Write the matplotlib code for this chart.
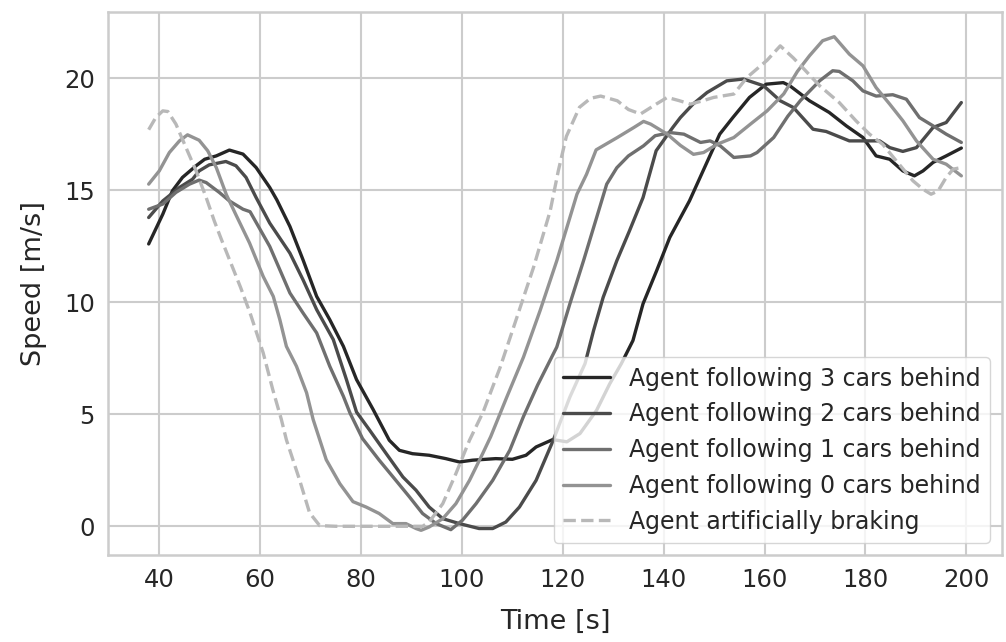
import matplotlib
matplotlib.use("Agg")
from matplotlib import pyplot as plt
import seaborn as sns

# time [s] and speed [m/s], one pair per agent
t_brake = [37.9, 39.3, 40.7, 41.7, 43.3, 45.3, 47.3, 49.3, 50.9, 52.3, 56.1, 58.0, 60.6, 62.5, 64.2, 65.2,
           67.8, 69.8, 71.8, 75, 80, 85, 90, 92.2, 93.5, 96.2, 98.8, 101.5, 104.2, 107.6, 110.9, 114.2,
           117.5, 119.1, 120.7, 123.3, 125.5, 127.5, 130.8, 133.0, 135.4, 138.5, 140.7, 143.0, 145.3,
           147.9, 149.9, 153.9, 156.5, 160.5, 163.1, 165.7, 167.5, 170.9, 174.8, 178.1, 180.8, 183.4,
           186.1, 189.4, 191.4, 193.0, 194.4, 196.0, 197.4, 199.0]
v_brake = [17.7, 18.24, 18.54, 18.51, 17.95, 16.9, 15.86, 14.67, 13.63, 12.81, 10.67, 9.52, 7.74, 6.1, 4.77,
           3.86, 2.08, 0.6, 0.03, 0, 0, 0, 0, 0, 0.19, 1.01, 2.35, 3.84, 5.1, 7.11, 9.33, 11.56, 14.08,
           15.86, 17.4, 18.7, 19.1, 19.2, 18.99, 18.6, 18.4, 18.84, 19.14, 19.0, 18.84, 19.0, 19.14,
           19.29, 20.03, 20.8, 21.44, 20.9, 20.48, 19.66, 18.91, 18.1, 17.5, 17.05, 16.31, 15.42, 15.04,
           14.82, 14.97, 15.57, 15.94, 16.01]

t_0 = [37.9, 40.0, 42.0, 44.0, 45.6, 47.9, 49.6, 51.3, 53.3, 55.2, 57.9, 60.6, 62.6, 63.9, 65.2, 67.2,
       69.2, 70.5, 73.1, 75.8, 78.4, 81.0, 83.6, 86.3, 88.9, 90.9, 91.9, 93.5, 96.2, 98.8, 101.5, 104.1,
       105.7, 108.9, 112.2, 115.5, 118.8, 121.4, 122.8, 124.7, 126.6, 130.8, 134.1, 136.0, 137.4, 140.7,
       143.3, 145.9, 147.9, 150.6, 153.9, 157.2, 160.5, 163.8, 166.5, 168.9, 171.5, 173.8, 176.8, 179.5,
       182.1, 184.8, 187.4, 190.1, 193.4, 196.0, 199.0]
v_0 = [15.27, 15.86, 16.68, 17.2, 17.47, 17.23, 16.76, 16.01, 14.8, 13.9, 12.64, 11.15, 10.26, 9.22, 8.03,
       7.14, 5.96, 4.77, 2.97, 1.9, 1.1, 0.86, 0.57, 0.12, 0.12, -0.1, -0.18, -0.03, 0.34, 1.01, 2.05,
       3.24, 4.0, 5.77, 7.55, 9.63, 11.85, 13.78, 14.82, 15.71, 16.8, 17.35, 17.8, 18.07, 17.95, 17.5,
       17.0, 16.6, 16.68, 17.05, 17.35, 17.95, 18.54, 19.3, 20.3, 21.0, 21.67, 21.85, 21.07, 20.55,
       19.58, 18.84, 18.1, 17.2, 16.38, 16.16, 15.64]

t_1 = [37.9, 40.7, 43.3, 46.0, 47.9, 49.3, 51.9, 53.9, 56.6, 58.0, 61.9, 65.9, 68.5, 71.2, 73.8, 76.5,
       77.8, 80.3, 83.6, 86.9, 89.6, 92.2, 94.9, 97.8, 100.1, 102.8, 106.1, 109.5, 112.2, 115.0, 118.8,
       121.4, 124.1, 126.7, 128.7, 130.7, 133.0, 136.0, 138.3, 141.3, 144.0, 147.3, 149.2, 151.2, 153.9,
       157.2, 158.5, 161.8, 164.6, 167.1, 170.9, 173.5, 174.8, 177.5, 179.5, 182.1, 185.4, 188.1, 190.7,
       193.4, 196.0, 199.0]
v_1 = [14.15, 14.38, 14.9, 15.27, 15.45, 15.34, 14.9, 14.52, 14.15, 14.04, 12.49, 10.41, 9.52, 8.63, 7.14,
       5.8, 5.06, 3.91, 2.95, 2.05, 1.31, 0.57, 0.12, -0.15, 0.27, 1.01, 2.05, 3.4, 4.9, 6.3, 8.0, 9.93,
       11.85, 13.78, 15.27, 16.0, 16.53, 16.98, 17.43, 17.57, 17.5, 17.13, 17.2, 16.98, 16.46, 16.53,
       16.68, 17.35, 18.3, 19.0, 19.88, 20.33, 20.3, 19.88, 19.43, 19.2, 19.26, 19.06, 18.24, 17.87,
       17.5, 17.13]

t_2 = [37.9, 40.7, 44.0, 46.6, 47.9, 49.9, 53.2, 55.2, 57.2, 59.2, 61.9, 65.9, 68.5, 71.2, 74.5, 77.1,
       79.1, 81.7, 85.0, 88.3, 90.9, 93.5, 96.2, 99.5, 103.4, 106.1, 108.7, 111.4, 114.7, 118.1, 121.4,
       124.4, 126.1, 128.0, 130.7, 133.2, 135.9, 138.5, 141.8, 143.3, 145.8, 148.6, 152.5, 155.8, 159.8,
       163.1, 165.7, 169.6, 172.2, 176.8, 182.8, 184.8, 187.4, 190.1, 193.4, 196.0, 199.0]
v_2 = [13.78, 14.52, 15.12, 15.49, 15.86, 16.13, 16.28, 16.09, 15.57, 14.67, 13.53, 12.19, 11.0, 9.67, 8.33,
       6.55, 5.1, 4.29, 3.24, 2.2, 1.61, 0.86, 0.34, 0.12, -0.1, -0.1, 0.19, 0.86, 2.05, 3.84, 5.77, 7.26,
       8.74, 10.22, 11.85, 13.18, 14.67, 16.76, 17.8, 18.24, 18.84, 19.36, 19.88, 19.96, 19.66, 18.99,
       18.69, 17.72, 17.62, 17.2, 17.2, 16.9, 16.73, 16.9, 17.8, 18.02, 18.91]

t_3 = [37.9, 40.7, 42.6, 44.6, 47.3, 49.0, 51.3, 53.9, 56.6, 59.2, 61.9, 63.3, 65.9, 68.5, 71.2, 73.8,
       76.5, 79.1, 82.4, 85.6, 87.6, 90.2, 93.5, 96.8, 99.5, 102.1, 106.7, 110.0, 112.7, 114.7, 118.0,
       120.8, 123.4, 126.7, 129.3, 131.6, 133.9, 135.9, 138.6, 141.2, 145.1, 148.4, 151.1, 153.7, 157.0,
       160.3, 163.7, 165.0, 168.9, 172.8, 176.2, 179.5, 182.1, 184.8, 187.4, 189.7, 191.4, 193.4, 196.0,
       199.0]
v_3 = [12.6, 13.93, 14.97, 15.57, 16.09, 16.38, 16.53, 16.79, 16.61, 16.01, 15.12, 14.57, 13.38, 11.89,
       10.26, 9.22, 8.03, 6.55, 5.21, 3.84, 3.39, 3.24, 3.17, 3.02, 2.87, 2.95, 3.02, 2.99, 3.17, 3.54,
       3.87, 3.77, 4.14, 5.18, 6.36, 7.26, 8.29, 9.93, 11.41, 12.89, 14.52, 16.16, 17.5, 18.24, 19.14,
       19.73, 19.8, 19.66, 18.99, 18.47, 17.87, 17.35, 16.53, 16.38, 15.86, 15.64, 15.86, 16.24, 16.53,
       16.88]

sns.set_theme(style="whitegrid")
plt.rcParams.update({"axes.edgecolor": "#cccccc", "axes.linewidth": 1.8,
                     "grid.linewidth": 1.5, "grid.color": "#cccccc"})

fig = plt.figure(figsize=(10.06, 6.42), dpi=100)
ax = fig.add_axes([0.1074, 0.1355, 0.8886, 0.8458])

lw = 2.4
ax.plot(t_3, v_3, color="#262626", lw=lw, label="Agent following 3 cars behind")
ax.plot(t_2, v_2, color="#4b4b4b", lw=lw, label="Agent following 2 cars behind")
ax.plot(t_1, v_1, color="#6f6f6f", lw=lw, label="Agent following 1 cars behind")
ax.plot(t_0, v_0, color="#939393", lw=lw, label="Agent following 0 cars behind")
ax.plot(t_brake, v_brake, "--", color="#b8b8b8", lw=lw, label="Agent artificially braking")

ax.set_xlabel("Time [s]", fontsize=19.5, labelpad=12)
ax.set_ylabel("Speed [m/s]", fontsize=19.5, labelpad=12)
ax.tick_params(labelsize=17.5)
ax.legend(loc="lower right", fontsize=17)

plt.savefig("out.png", dpi=100)
